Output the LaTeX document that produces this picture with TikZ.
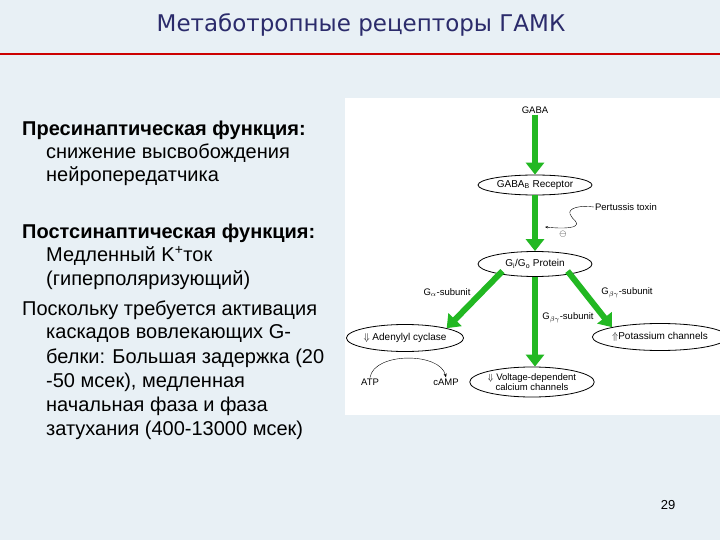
\documentclass[tikz,border=0pt]{standalone}
\usepackage{fontspec}
\setmainfont{Liberation Sans}
\newfontfamily\titlefont{DejaVu Sans}
\usetikzlibrary{shapes.geometric,arrows.meta}
\definecolor{bg}{HTML}{E8F0F5}
\definecolor{navy}{HTML}{2B2B6B}
\definecolor{gr}{HTML}{22B822}
\tikzset{
 ell/.style={ellipse,draw,thick,inner sep=0pt,font=\fontsize{10}{11}\selectfont},
 big/.style={gr,line width=6pt,-{Triangle[length=12pt,width=18pt]}},
 lab/.style={font=\fontsize{9.5}{11}\selectfont,inner sep=1pt},
 txt/.style={anchor=west,inner sep=0pt,font=\fontsize{20}{22}\selectfont}
}
\begin{document}
\begin{tikzpicture}[x=1pt,y=-1pt]
\fill[bg] (0,0) rectangle (720,540);
\useasboundingbox (0,0) rectangle (720,540);
\node[font=\titlefont\fontsize{23}{25}\selectfont,text=navy] (title) at (361,25) {Метаботропные рецепторы ГАМК};
\draw[red!80!black,line width=1.5pt] (0,54) -- (720,54);
\fill[white] (345,98) rectangle (720,415);
% left text
\node[txt,font=\bfseries\fontsize{20}{22}\selectfont] (t1) at (22,130) {Пресинаптическая функция:};
\node[txt] (t2) at (46,153) {снижение высвобождения};
\node[txt] (t3) at (46,176) {нейропередатчика};
\node[txt,font=\bfseries\fontsize{20}{22}\selectfont] (t4) at (22,233) {Постсинаптическая функция:};
\node[txt] (t5) at (46,256) {Медленный K\textsuperscript{+}ток};
\node[txt] (t6) at (46,280) {(гиперполяризующий)};
\node[txt] (t7) at (22,310) {Поскольку требуется активация};
\node[txt] (t8) at (46,334) {каскадов вовлекающих G-};
\node[txt] (t9) at (46,358) {белки: Большая задержка (20};
\node[txt] (t10) at (46,382) {-50 мсек), медленная};
\node[txt] (t11) at (46,406) {начальная фаза и фаза};
\node[txt] (t12) at (46,430) {затухания (400-13000 мсек)};
\node[font=\fontsize{13}{14}\selectfont] (pg) at (668,505) {29};
% diagram
\node[lab] (gaba) at (535,110) {GABA};
\node[ell,minimum width=114pt,minimum height=20pt] (rec) at (535,185) {GABA\textsubscript{B} Receptor};
\node[ell,minimum width=114pt,minimum height=25pt] (gp) at (535,264) {G\textsubscript{i}/G\textsubscript{o} Protein};
\node[ell,minimum width=115pt,minimum height=27pt] (ac) at (405,338) {$\Downarrow$ Adenylyl cyclase};
\node[ell,minimum width=110pt,minimum height=27pt] (k) at (660,337) {$\Uparrow$Potassium channels};
\node[ell,minimum width=105pt,minimum height=30pt,align=center,font=\fontsize{9.5}{10}\selectfont] (ca) at (532,382) {$\Downarrow$ Voltage-dependent\\calcium channels};
\node[lab] (pt) at (626,207) {Pertussis toxin};
\node[lab] (minus) at (563,234) {$\ominus$};
\coordinate (ptend) at (545,227);
\node[lab] (ga) at (447,293) {G\textsubscript{$\alpha$}-subunit};
\node[lab] (gbm) at (568,318) {G\textsubscript{$\beta\gamma$}-subunit};
\node[lab] (gbr) at (627,293) {G\textsubscript{$\beta\gamma$}-subunit};
\node[lab] (atp) at (370,382) {ATP};
\node[lab] (camp) at (446,382) {cAMP};
\draw[big] (gaba) -- (rec);
\draw[big] (rec) -- (gp);
\draw[big] (gp.south west) ++(8,-2) -- (ac.north east);
\draw[big] (gp.south) -- (gp.south |- ca.north);
\draw[big] (gp.south east) ++(-8,-2) -- (k.north west);
\draw[-{Stealth[length=3pt]}] (pt.west) .. controls (580,205) and (568,208) .. (570,214) .. controls (572,220) and (580,222) .. (575,226) .. controls (570,229) and (555,228) .. (ptend);
\draw[-{Stealth[length=4pt]}] (atp.north) .. controls (374,352) and (440,352) .. (camp.north);
\end{tikzpicture}
\end{document}
